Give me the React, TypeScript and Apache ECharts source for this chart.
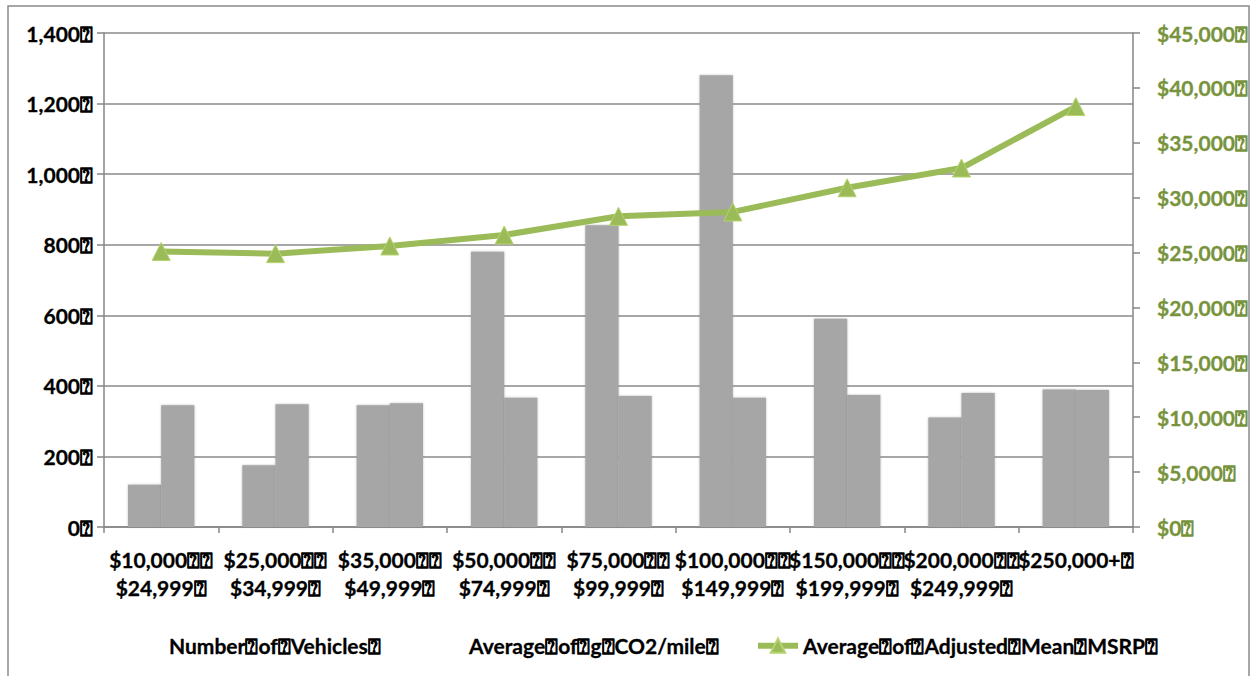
import React, { useEffect, useRef } from "react";
import * as echarts from "echarts";

const Q = "\u2370";

const categories = [
  `$10,000${Q}${Q}\n$24,999${Q}`,
  `$25,000${Q}${Q}\n$34,999${Q}`,
  `$35,000${Q}${Q}\n$49,999${Q}`,
  `$50,000${Q}${Q}\n$74,999${Q}`,
  `$75,000${Q}${Q}\n$99,999${Q}`,
  `$100,000${Q}${Q}\n$149,999${Q}`,
  `$150,000${Q}${Q}\n$199,999${Q}`,
  `$200,000${Q}${Q}\n$249,999${Q}`,
  `$250,000+${Q}`,
];

const vehicles = [120, 175, 345, 780, 855, 1280, 590, 310, 390];
const co2PerMile = [345, 348, 351, 366, 371, 366, 374, 380, 388];
const msrp = [25100, 24900, 25600, 26600, 28300, 28700, 30900, 32700, 38300];

const leftTicks = [`0${Q}`, `200${Q}`, `400${Q}`, `600${Q}`, `800${Q}`, `1,000${Q}`, `1,200${Q}`, `1,400${Q}`];
const rightTicks = [
  `$0${Q}`, `$5,000${Q}`, `$10,000${Q}`, `$15,000${Q}`, `$20,000${Q}`,
  `$25,000${Q}`, `$30,000${Q}`, `$35,000${Q}`, `$40,000${Q}`, `$45,000${Q}`,
];

const seriesNames = [
  `Number${Q}of${Q}Vehicles${Q}`,
  `Average${Q}of${Q}g${Q}CO2/mile${Q}`,
  `Average${Q}of${Q}Adjusted${Q}Mean${Q}MSRP${Q}`,
];

const FONT = "Lato, 'Open Sans', sans-serif";
const FS = 21;
const TB = 0.3;

export default function App() {
  const ref = useRef<HTMLDivElement>(null);
  useEffect(() => {
    document.body.style.margin = "0";
    const chart = echarts.init(ref.current!, null, { renderer: "svg" });
    const legendText = { fontFamily: FONT, fontSize: FS, fontWeight: "bold", color: "#000", textBorderColor: "#000", textBorderWidth: TB };
    chart.setOption({
      animation: false,
      backgroundColor: "#fff",
      graphic: [
        {
          type: "rect",
          shape: { x: 8, y: 6, width: 1241, height: 700 },
          style: { fill: "none", stroke: "#8a8a8a", lineWidth: 1.5 },
          silent: true,
        },
      ],
      grid: { left: 104, right: 121, top: 33, bottom: 149 },
      legend: [
        {
          data: [{ name: seriesNames[0], itemStyle: { opacity: 0 } }],
          left: 156, top: 630, itemWidth: 3, itemHeight: 14, itemGap: 5,
          textStyle: legendText,
        },
        {
          data: [{ name: seriesNames[1], itemStyle: { opacity: 0 } }],
          left: 456, top: 630, itemWidth: 3, itemHeight: 14, itemGap: 5,
          textStyle: legendText,
        },
        {
          data: [seriesNames[2]],
          left: 750, top: 630, itemWidth: 40, itemHeight: 18,
          lineStyle: { width: 6, color: "#9bbb59" },
          textStyle: legendText,
        },
      ],
      xAxis: {
        type: "category",
        data: categories,
        axisLine: { lineStyle: { color: "#868686", width: 1.5 } },
        axisTick: { show: true, length: 6, lineStyle: { color: "#868686", width: 1.5 } },
        axisLabel: {
          interval: 0,
          margin: 18,
          fontFamily: FONT,
          fontSize: FS,
          fontWeight: "bold",
          color: "#000",
          textBorderColor: "#000",
          textBorderWidth: TB,
          lineHeight: 28,
        },
      },
      yAxis: [
        {
          type: "value",
          min: 0,
          max: 1400,
          interval: 200,
          axisLine: { show: true, lineStyle: { color: "#868686", width: 1.5 } },
          axisTick: { show: true, length: 7, lineStyle: { color: "#868686", width: 1.5 } },
          splitLine: { lineStyle: { color: "#8a8a8a", width: 1.5 } },
          axisLabel: {
            margin: 11,
            fontFamily: FONT,
            fontSize: FS,
            fontWeight: "bold",
            color: "#000",
            textBorderColor: "#000",
            textBorderWidth: TB,
            formatter: (v: number) => leftTicks[Math.round(v / 200)],
          },
        },
        {
          type: "value",
          min: 0,
          max: 45000,
          interval: 5000,
          position: "right",
          axisLine: { show: true, lineStyle: { color: "#868686", width: 1.5 } },
          axisTick: { show: true, length: 7, lineStyle: { color: "#868686", width: 1.5 } },
          splitLine: { show: false },
          axisLabel: {
            margin: 24,
            fontFamily: FONT,
            fontSize: FS,
            fontWeight: "bold",
            color: "#77933c",
            textBorderColor: "#77933c",
            textBorderWidth: TB,
            formatter: (v: number) => rightTicks[Math.round(v / 5000)],
          },
        },
      ],
      series: [
        {
          name: seriesNames[0],
          type: "bar",
          data: vehicles,
          barGap: "0%",
          barCategoryGap: "42%",
          itemStyle: { color: "#a6a6a6", shadowBlur: 2, shadowColor: "rgba(120,120,120,0.5)" },
        },
        {
          name: seriesNames[1],
          type: "bar",
          data: co2PerMile,
          barGap: "0%",
          barCategoryGap: "42%",
          itemStyle: { color: "#a6a6a6", shadowBlur: 2, shadowColor: "rgba(120,120,120,0.5)" },
        },
        {
          name: seriesNames[2],
          type: "line",
          yAxisIndex: 1,
          data: msrp,
          symbol: "triangle",
          symbolSize: 18,
          lineStyle: { color: "#9bbb59", width: 6 },
          itemStyle: { color: "#9bbb59", borderColor: "#b5d36e", borderWidth: 1 },
          z: 5,
        },
      ],
    });
    return () => chart.dispose();
  }, []);
  return <div ref={ref} style={{ width: 1254, height: 676 }} />;
}
